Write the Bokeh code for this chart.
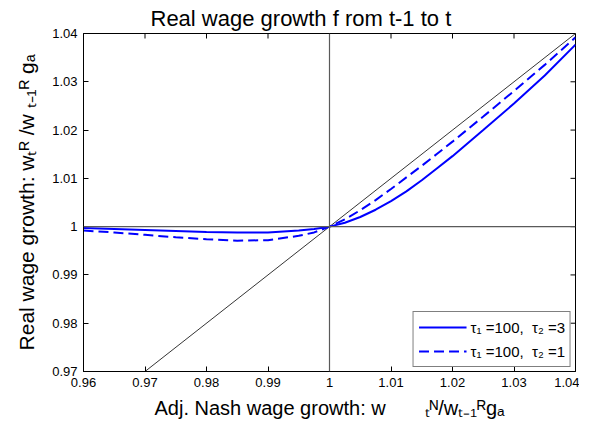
from bokeh.plotting import figure
from bokeh.models import FixedTicker, Span, Legend, LegendItem
from bokeh.embed import file_html
from bokeh.resources import INLINE

# ---- data ----
x_vals = [0.96, 0.965, 0.97, 0.975, 0.98, 0.985, 0.99, 0.995, 0.9975, 1.0,
          1.0025, 1.005, 1.0075, 1.01, 1.0125, 1.015, 1.0175, 1.02, 1.025, 1.03, 1.035, 1.04]
solid_tau2_3 = [0.9997, 0.9995, 0.9993, 0.9991, 0.9989, 0.9988, 0.9988, 0.9992, 0.9995, 1.0,
                1.0008, 1.0020, 1.0035, 1.0053, 1.0073, 1.0096, 1.0121, 1.0146, 1.0200, 1.0255, 1.0313, 1.0377]
dashed_tau2_1 = [0.9992, 0.9988, 0.9983, 0.9978, 0.9974, 0.9971, 0.9972, 0.9981, 0.9988, 1.0,
                 1.0015, 1.0034, 1.0055, 1.0078, 1.0102, 1.0126, 1.0151, 1.0176, 1.0228, 1.0281, 1.0335, 1.0392]
diag_x = [0.96, 1.04]
diag_y = [0.96, 1.04]
ref_level = 1.0

x_ticks = [0.96, 0.97, 0.98, 0.99, 1.0, 1.01, 1.02, 1.03, 1.04]
x_tick_labels = ["0.96", "0.97", "0.98", "0.99", "1", "1.01", "1.02", "1.03", "1.04"]
y_ticks = [0.97, 0.98, 0.99, 1.0, 1.01, 1.02, 1.03, 1.04]
y_tick_labels = ["0.97", "0.98", "0.99", "1", "1.01", "1.02", "1.03", "1.04"]

NB = "\u00a0"
legend_labels = ["\u03c4\u2081" + NB + "=100," + NB + NB + "\u03c4\u2082" + NB + "=3",
                 "\u03c4\u2081" + NB + "=100," + NB + NB + "\u03c4\u2082" + NB + "=1"]
title_text = "Real wage growth f rom t-1 to t"
x_label = "Adj. Nash wage growth: w" + NB * 7 + "\u209c\u1d3a/w\u209c\u208b\u2081\u1d3fg\u2090"
y_label = ("Real wage growth:" + NB + "w\u209c\u1d3f" + NB + "/w" + NB + "\u209c\u208b\u2081\u1d3f"
           + NB + "g\u2090")

FONT = "Liberation Sans"

W, H = 579, 423
BL, BR, BT, BB = 83, 4, 33, 52
x0, x1 = 0.96, 1.04
y0, y1 = 0.97, 1.04

p = figure(width=W, height=H, x_range=(x0, x1), y_range=(y0, y1),
           output_backend="svg", toolbar_location=None,
           min_border_left=BL, min_border_right=BR, min_border_top=BT, min_border_bottom=BB)
p.xgrid.visible = False
p.ygrid.visible = False
p.outline_line_color = "black"
p.outline_line_width = 1
p.background_fill_color = "white"
p.border_fill_color = "white"

p.title.text = title_text
p.title.text_font = FONT
p.title.text_font_size = "22px"
p.title.text_font_style = "normal"
p.title.text_color = "black"
p.title.align = "left"
p.title.offset = 67
p.title.standoff = 6

def style_axis(ax, ticks, labels, label_size):
    ax.ticker = FixedTicker(ticks=ticks)
    ax.major_label_overrides = {t: l for t, l in zip(ticks, labels)}
    ax.major_tick_in = 5
    ax.major_tick_out = 0
    ax.minor_tick_line_color = None
    ax.axis_line_color = "black"
    ax.major_tick_line_color = "black"
    ax.major_label_text_font = FONT
    ax.major_label_text_color = "black"
    ax.major_label_text_font_size = "13px"
    ax.major_label_standoff = 6
    ax.axis_label_text_font = FONT
    ax.axis_label_text_font_style = "normal"
    ax.axis_label_text_font_size = label_size
    ax.axis_label_text_color = "black"

style_axis(p.xaxis[0], x_ticks, x_tick_labels, "20px")
style_axis(p.yaxis[0], y_ticks, y_tick_labels, "21px")
p.xaxis[0].axis_label = x_label
p.yaxis[0].axis_label = y_label
p.xaxis[0].axis_label_standoff = 7
p.yaxis[0].axis_label_standoff = 11

# tick marks on the top and right edges of the box (inward, 5 px)
frame_w = W - BL - BR
frame_h = H - BT - BB
tick_dy = 5 * (y1 - y0) / frame_h
tick_dx = 5 * (x1 - x0) / frame_w
p.segment(x0=x_ticks, y0=[y1] * len(x_ticks), x1=x_ticks, y1=[y1 - tick_dy] * len(x_ticks),
          line_color="black", line_width=1)
p.segment(x0=[x1] * len(y_ticks), y0=y_ticks, x1=[x1 - tick_dx] * len(y_ticks), y1=y_ticks,
          line_color="black", line_width=1)

p.add_layout(Span(location=ref_level, dimension="width", line_color="#5a5a5a", line_width=1.2))
p.add_layout(Span(location=ref_level, dimension="height", line_color="#5a5a5a", line_width=1.2))

p.line(diag_x, diag_y, line_color="black", line_width=0.8)
r1 = p.line(x_vals, solid_tau2_3, line_color="#0000ff", line_width=2)
r2 = p.line(x_vals, dashed_tau2_1, line_color="#0000ff", line_width=2, line_dash="10 5")

legend = Legend(items=[LegendItem(label=legend_labels[0], renderers=[r1]),
                       LegendItem(label=legend_labels[1], renderers=[r2])],
                location="bottom_right")
legend.border_line_color = "black"
legend.border_line_width = 1
legend.background_fill_color = "white"
legend.background_fill_alpha = 1
legend.label_text_font = FONT
legend.label_text_font_size = "15px"
legend.label_text_color = "black"
legend.glyph_width = 48
legend.glyph_height = 20
legend.label_height = 20
legend.label_standoff = 4
legend.padding = 5
legend.spacing = 4
legend.margin = 4
p.add_layout(legend)

open("out.html", "w").write(file_html(p, INLINE))
